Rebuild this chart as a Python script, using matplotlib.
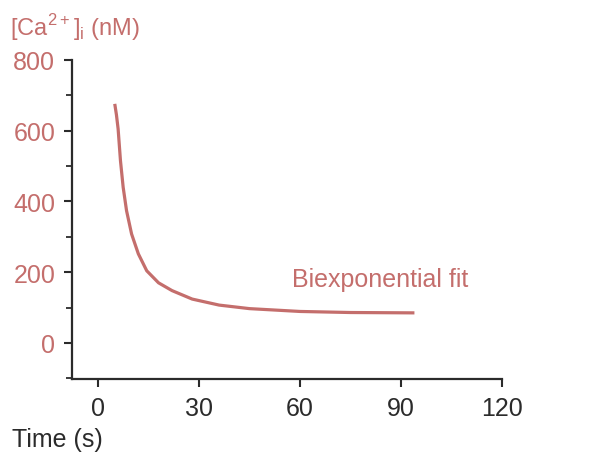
import matplotlib.pyplot as plt
from matplotlib.ticker import MultipleLocator

plt.rcParams['font.family'] = ['Liberation Sans', 'DejaVu Sans']
plt.rcParams['mathtext.fontset'] = 'custom'
plt.rcParams['mathtext.rm'] = 'Liberation Sans'

time_s = [5, 5.5, 6, 6.7, 7.5, 8.5, 10, 12, 14.5, 18, 22, 28, 36, 45, 60, 75, 94]
ca_nM = [676, 645, 605, 515, 440, 374, 308, 252, 204, 170, 148, 124, 107, 97, 89, 86, 85]
x_ticks = [0, 30, 60, 90, 120]
y_ticks = [0, 200, 400, 600, 800]

rose = '#c46e6c'
dark = '#2b2b2b'

fig = plt.figure(figsize=(5.93, 4.60), dpi=100)
ax = fig.add_axes([0.1214, 0.1739, 0.7251, 0.6935])

ax.plot(time_s, ca_nM, color=rose, lw=2.3, solid_capstyle='butt')
ax.text(57.6, 161, 'Biexponential fit', color=rose, fontsize=18, ha='left', va='baseline')

ax.set_xlim(-7.7, 120)
ax.set_ylim(-102, 800)
ax.set_xticks(x_ticks)
ax.set_yticks(y_ticks)
ax.yaxis.set_minor_locator(MultipleLocator(100))

for s in ['top', 'right']:
    ax.spines[s].set_visible(False)
for s in ['left', 'bottom']:
    ax.spines[s].set_color(dark)
    ax.spines[s].set_linewidth(1.6)

ax.tick_params(axis='both', which='major', length=6, width=1.5, color=dark, labelsize=18, pad=6)
ax.tick_params(axis='y', which='minor', length=4, width=1.3, color=dark)
ax.tick_params(axis='y', labelcolor=rose)
ax.tick_params(axis='x', labelcolor=dark)

fig.text(0.017, 0.94, r'[Ca$^{\mathrm{2+}}$]$_{\mathrm{i}}$ (nM)', color=rose, fontsize=17,
         ha='left', va='center')
fig.text(0.02, 0.043, 'Time (s)', color=dark, fontsize=18, ha='left', va='center')

fig.savefig('out.png', dpi=100)
